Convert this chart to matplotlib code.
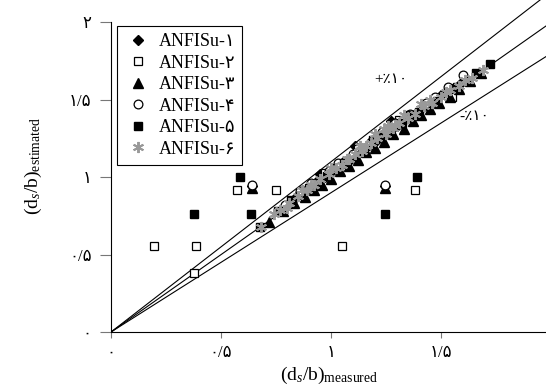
import matplotlib
matplotlib.use("Agg")
import matplotlib.pyplot as plt
import numpy as np

plt.rcParams['mathtext.fontset'] = 'custom'
plt.rcParams['mathtext.rm'] = 'Liberation Serif'
plt.rcParams['mathtext.it'] = 'Liberation Serif:italic'

serif = ['Liberation Serif', 'DejaVu Sans']

# --- data ---
labels = ['ANFISu-۱', 'ANFISu-۲', 'ANFISu-۳', 'ANFISu-۴', 'ANFISu-۵', 'ANFISu-۶']

x1 = [0.64, 1.245, 0.80, 0.84, 0.88, 0.93, 0.97, 1.01, 1.05, 1.09, 1.13, 1.17,
      1.21, 1.25, 1.30, 1.34, 1.38, 1.42, 1.46, 1.50, 1.55, 1.59, 1.27, 1.11, 0.95]
y1 = [0.94, 0.94, 0.82, 0.87, 0.91, 0.97, 1.00, 1.05, 1.09, 1.12, 1.17, 1.21,
      1.24, 1.29, 1.33, 1.38, 1.41, 1.46, 1.49, 1.53, 1.57, 1.61, 1.36, 1.20, 1.02]

x2 = [0.573, 0.75, 1.38, 0.196, 0.386, 1.05, 0.377, 0.97, 1.12, 1.31, 1.44, 1.55, 1.62]
y2 = [0.916, 0.916, 0.916, 0.555, 0.555, 0.555, 0.38, 1.03, 1.18, 1.37, 1.47, 1.52, 1.62]

x3 = [0.64, 1.245, 0.72, 0.78, 0.83, 0.88, 0.92, 0.96, 1.00, 1.04, 1.08, 1.12,
      1.16, 1.20, 1.24, 1.28, 1.33, 1.37, 1.41, 1.45, 1.49, 1.54, 1.58, 1.63, 1.68]
y3 = [0.93, 0.93, 0.71, 0.78, 0.83, 0.87, 0.92, 0.95, 0.99, 1.04, 1.07, 1.11,
      1.16, 1.19, 1.23, 1.28, 1.31, 1.36, 1.40, 1.44, 1.48, 1.52, 1.57, 1.62, 1.67]

x4 = [0.64, 1.245, 0.79, 0.86, 0.91, 0.99, 1.03, 1.10, 1.18, 1.23, 1.29, 1.36,
      1.43, 1.47, 1.53, 1.60]
y4 = [0.95, 0.95, 0.82, 0.91, 0.96, 1.04, 1.09, 1.15, 1.23, 1.29, 1.35, 1.41,
      1.48, 1.52, 1.58, 1.66]

x5 = [0.586, 1.39, 0.377, 0.636, 1.245, 0.677, 0.76, 0.82, 0.90, 0.98, 1.06,
      1.14, 1.22, 1.32, 1.40, 1.48, 1.57, 1.66, 1.72, 1.36, 1.19]
y5 = [1.00, 1.00, 0.76, 0.76, 0.76, 0.68, 0.78, 0.85, 0.93, 1.01, 1.09,
      1.17, 1.26, 1.35, 1.42, 1.49, 1.58, 1.67, 1.73, 1.40, 1.24]

x6 = [0.68, 0.74, 0.77, 0.81, 0.85, 0.89, 0.92, 0.95, 0.99, 1.02, 1.05, 1.08,
      1.11, 1.14, 1.18, 1.21, 1.25, 1.28, 1.31, 1.35, 1.38, 1.42, 1.46, 1.50,
      1.54, 1.58, 1.64, 1.69, 0.80, 0.91, 1.00, 1.07, 1.16, 1.24, 1.29, 1.33,
      1.41, 1.45, 1.52, 1.61, 0.87, 1.13, 1.20, 1.26]
y6 = [0.68, 0.76, 0.79, 0.83, 0.88, 0.92, 0.95, 0.99, 1.02, 1.06, 1.08, 1.12,
      1.15, 1.17, 1.22, 1.25, 1.28, 1.32, 1.35, 1.38, 1.41, 1.46, 1.48, 1.52,
      1.56, 1.59, 1.64, 1.69, 0.80, 0.95, 1.06, 1.12, 1.20, 1.31, 1.34, 1.40,
      1.47, 1.50, 1.55, 1.63, 0.92, 1.20, 1.28, 1.33]

ticks = [0, 0.5, 1, 1.5, 2]
ticklabels = ['۰', '۰/۵', '۱', '۱/۵', '۲']

fig = plt.figure(figsize=(5.46, 3.88), dpi=100)
ax = fig.add_axes([0.2033, 0.1443, 0.797, 0.8557])

# reference lines: y = x, +10 %, -10 %
xl = np.array([0, 2.3])
for k in [1.1, 1.0, 0.9]:
    ax.plot(xl, k * xl, color='black', lw=0.8, zorder=1)

ms = 6.3
ax.plot(x1, y1, 'D', ms=5.2, color='black', mec='black', ls='none', label=labels[0], zorder=2)
ax.plot(x2, y2, 's', ms=ms, mfc='white', mec='black', mew=0.9, ls='none', label=labels[1], zorder=2)
ax.plot(x3, y3, '^', ms=ms + 0.5, color='black', ls='none', label=labels[2], zorder=2)
ax.plot(x4, y4, 'o', ms=ms, mfc='white', mec='black', mew=0.9, ls='none', label=labels[3], zorder=2)
ax.plot(x5, y5, 's', ms=ms, color='black', ls='none', label=labels[4], zorder=2)
ax.plot(x6, y6, marker=(6, 2, 0), ms=8, color='#999999', mew=1.4, ls='none', label=labels[5], zorder=3)

ax.text(1.27, 1.63, '+٪۱۰', fontsize=11, family=serif, ha='center', va='center')
ax.text(1.65, 1.39, '-٪۱۰', fontsize=11, family=serif, ha='center', va='center')

ax.set_xlim(0, 1.977)
ax.set_ylim(0, 2.144)
ax.spines['top'].set_visible(False)
ax.spines['right'].set_visible(False)
ax.spines['left'].set_bounds(0, 2)
ax.spines['left'].set_linewidth(0.8)
ax.spines['bottom'].set_linewidth(0.8)

ax.set_xticks(ticks[:4])
ax.set_xticklabels(ticklabels[:4], family=serif, fontsize=12)
ax.set_yticks(ticks)
ax.set_yticklabels(ticklabels, family=serif, fontsize=12)
ax.tick_params(axis='x', length=4, color='#777777', pad=5)
ax.tick_params(axis='y', length=8, color='#777777', pad=6)

ax.set_xlabel('(d$_s$/b)$_{\\rm measured}$', fontsize=14, family=serif, labelpad=3)
ax.set_ylabel('(d$_s$/b)$_{\\rm estimated}$', fontsize=14, family=serif, labelpad=18)

leg = ax.legend(loc='upper left', bbox_to_anchor=(0.014, 0.922), borderaxespad=0,
                fancybox=False, edgecolor='black', framealpha=1,
                prop={'family': serif, 'size': 13}, handletextpad=0.4,
                labelspacing=0.25, borderpad=0.4, handlelength=1.5)
leg.get_frame().set_linewidth(0.8)

fig.savefig('out.png', dpi=100)
